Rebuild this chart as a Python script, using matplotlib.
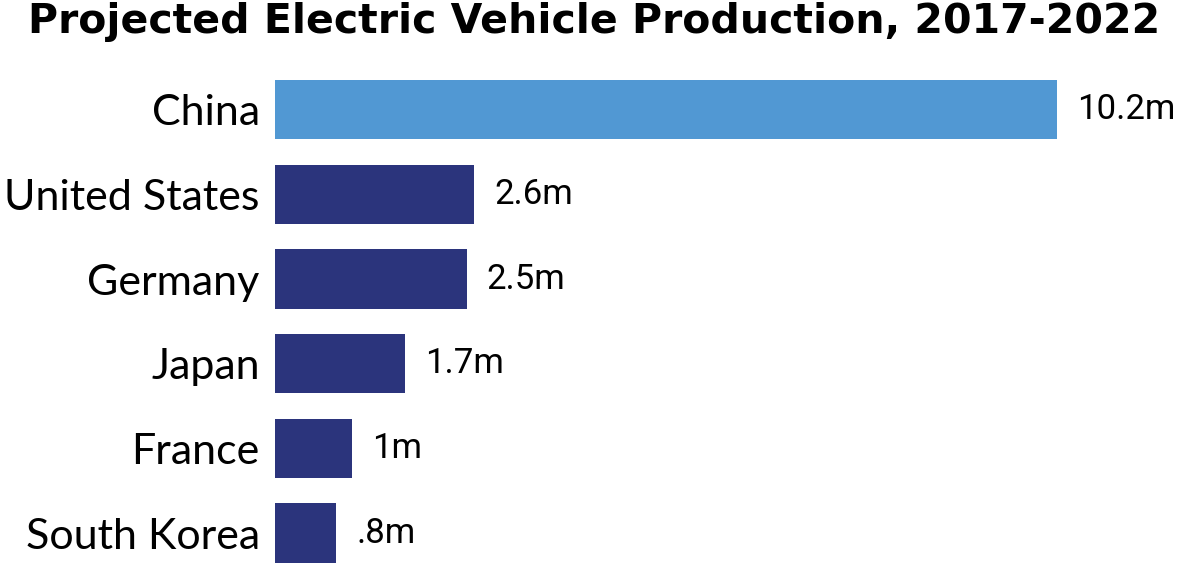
import matplotlib
matplotlib.use('Agg')
import matplotlib.pyplot as plt

#%% data
countries = ['China', 'United States', 'Germany', 'Japan', 'France', 'South Korea']
production = [10.2, 2.6, 2.5, 1.7, 1.0, 0.8]
value_labels = ['10.2m', '2.6m', '2.5m', '1.7m', '1m', '.8m']
colors = ['#5198d3', '#2b347c', '#2b347c', '#2b347c', '#2b347c', '#2b347c']

#%% plot
fig = plt.figure(figsize=(12, 5.76), dpi=100)
ax = fig.add_axes([275 / 1200, 0.001, 925 / 1200, 0.882])

y = list(range(len(countries)))
ax.barh(y, production, height=0.7, color=colors)
ax.set_ylim(len(countries) - 0.5, -0.5)
ax.set_xlim(0, 12.06)

ax.set_yticks(y)
ax.set_yticklabels(countries, fontsize=31, family='Lato')
ax.tick_params(axis='y', length=0, pad=11)
ax.set_xticks([])
for s in ax.spines.values():
    s.set_visible(False)

for yi, val, lab in zip(y, production, value_labels):
    ax.annotate(lab, (val, yi), xytext=(20, 0), textcoords='offset pixels',
                va='center', ha='left', fontsize=25, family='Roboto')

fig.text(0.495, 0.962, 'Projected Electric Vehicle Production, 2017-2022',
         ha='center', va='center', fontsize=29.5, fontweight='bold', family='DejaVu Sans')

fig.savefig('out.png', dpi=100)
